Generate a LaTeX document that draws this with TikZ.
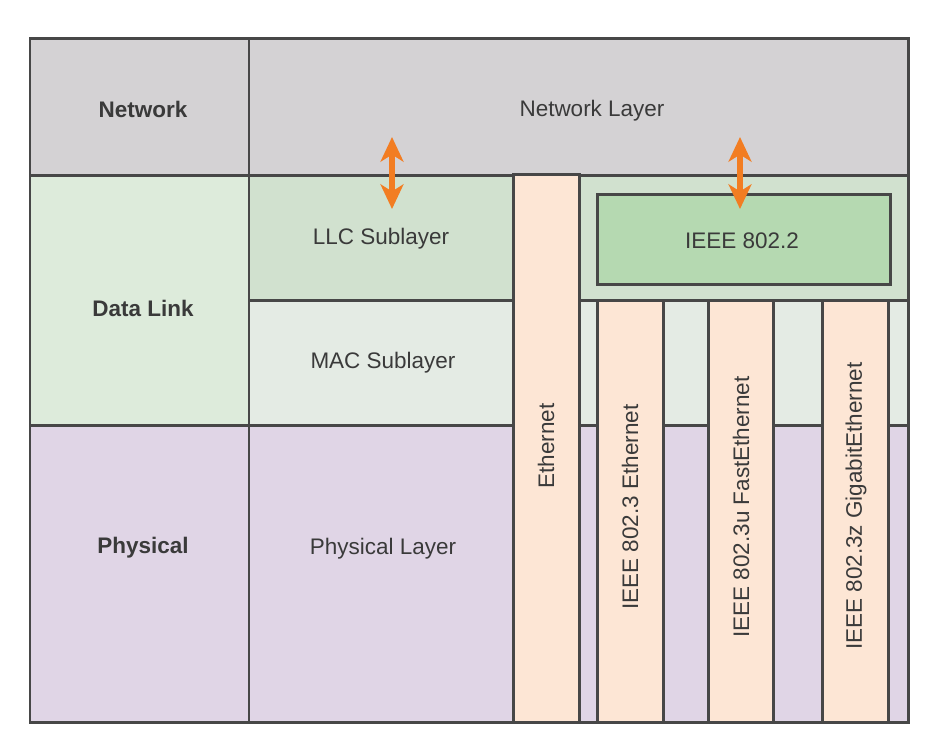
\documentclass[tikz,border=0pt]{standalone}
\usepackage{fontspec}
\setmainfont{Liberation Sans}
\usetikzlibrary{arrows.meta}
\definecolor{cGrey}{HTML}{D4D2D4}
\definecolor{cLink}{HTML}{DDEBDB}
\definecolor{cLlc}{HTML}{D1E1CF}
\definecolor{cMac}{HTML}{E4EBE4}
\definecolor{cPhys}{HTML}{E0D5E6}
\definecolor{cPeach}{HTML}{FDE6D5}
\definecolor{cIeee}{HTML}{B5D9B1}
\definecolor{cLine}{HTML}{474747}
\definecolor{cText}{HTML}{3A3A3A}
\definecolor{cOrange}{HTML}{F27D22}
\begin{document}
\begin{tikzpicture}[x=0.02cm,y=-0.02cm,
    rule/.style={draw=cLine,line width=1.7pt},
    lbl/.style={text=cText,font=\fontsize{12.8}{15}\selectfont,inner sep=0pt},
    bold/.style={lbl,font=\fontsize{12.8}{15}\selectfont\bfseries},
    updown/.style={{Stealth[width=13pt,length=14pt,inset=4pt]}-{Stealth[width=13pt,length=14pt,inset=4pt]},draw=cOrange,line width=3pt}]
\useasboundingbox (0,0) rectangle (952,752);

% Filling layer rows
\fill[cGrey] (30,38) rectangle (908,175);
\fill[cLink] (30,175) rectangle (249,425);
\fill[cLlc] (249,175) rectangle (908,300);
\fill[cMac] (249,300) rectangle (908,425);
\fill[cPhys] (30,425) rectangle (908,722);

% Drawing grid lines
\draw[rule] (30,38) rectangle (908,722);
\draw[rule] (249,38) -- (249,722);
\draw[rule] (30,175) -- (908,175);
\draw[rule] (249,300) -- (908,300);
\draw[rule] (30,425) -- (908,425);

% Drawing Ethernet column
\draw[rule,fill=cPeach] (513,174) rectangle (579,722);

% Drawing IEEE 802.2 box
\draw[rule,fill=cIeee] (597,194) rectangle (890,284);

% Drawing IEEE 802.3 columns
\foreach \xa/\xb in {597/663,708/773,822/888}
  \draw[rule,fill=cPeach] (\xa,300) rectangle (\xb,722);

% Marking layer names
\node[bold] (net) at (143,109) {Network};
\node[bold] (dll) at (143,308) {Data Link};
\node[bold] (phy) at (143,548) {Physical};

% Marking sublayers
\node[lbl] (netlayer) at (592,111) {Network Layer};
\node[lbl] (llc) at (381,239) {LLC Sublayer};
\node[lbl] (mac) at (383,363) {MAC Sublayer};
\node[lbl] (phylayer) at (383,549) {Physical Layer};
\node[lbl] (ieee) at (742,241) {IEEE 802.2};

% Marking rotated standards
\node[lbl,rotate=90] (eth) at (546,446) {Ethernet};
\node[lbl,rotate=90] (std3) at (630,507) {IEEE 802.3 Ethernet};
\node[lbl,rotate=90] (std3u) at (741,507) {IEEE 802.3u FastEthernet};
\node[lbl,rotate=90] (std3z) at (856,506) {IEEE 802.3z GigabitEthernet};

% Drawing arrows
\coordinate (a1) at (392,137);
\coordinate (b1) at (392,209);
\coordinate (a2) at (740,137);
\coordinate (b2) at (740,209);
\draw[updown] (a1) -- (b1);
\draw[updown] (a2) -- (b2);
\end{tikzpicture}
\end{document}
